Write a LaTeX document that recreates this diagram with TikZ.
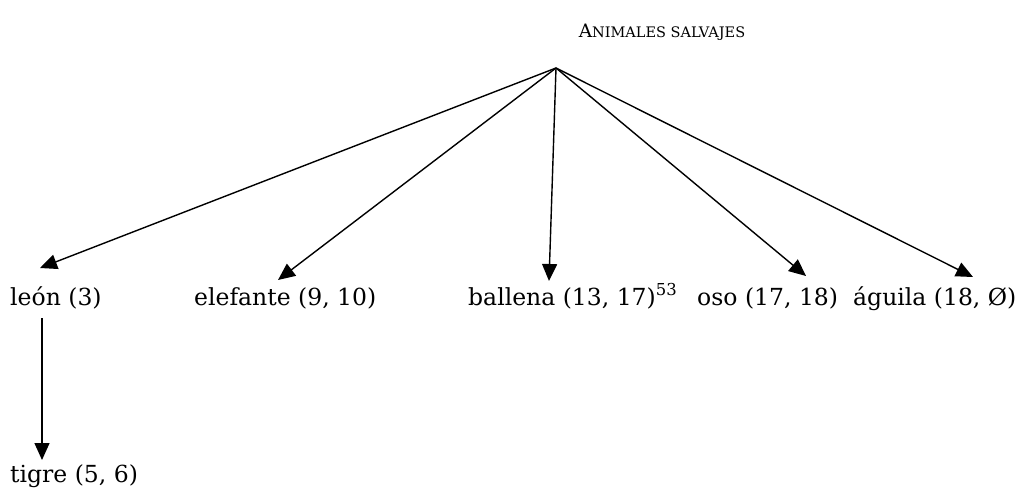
\documentclass[tikz,border=0pt]{standalone}
\usepackage{fontspec}
\setmainfont{DejaVu Serif}
\usetikzlibrary{arrows.meta}
\tikzset{
  lbl/.style={anchor=base west, inner sep=0pt, font=\fontsize{23.5}{27}\selectfont},
  arr/.style={-{Triangle[length=17pt,width=15pt]}, line width=1.4pt}
}
\begin{document}
\begin{tikzpicture}[x=1pt,y=-1pt]
\useasboundingbox (0,0) rectangle (1024,490);
\node[anchor=base, inner sep=0pt] (title) at (662,37)
  {{\fontsize{18.5}{21}\selectfont A}{\fontsize{14.5}{17}\selectfont NIMALES SALVAJES}};
\coordinate (apex) at (556,68);
\node[lbl] (leon) at (10,305) {león (3)};
\node[lbl] (elef) at (194,305) {elefante (9, 10)};
\node[lbl] (ball) at (468,305) {ballena (13, 17)\textsuperscript{53}};
\node[lbl] (oso) at (697,305) {oso (17, 18)};
\node[lbl] (agui) at (853,305) {águila (18, Ø)};
\node[lbl] (tigre) at (10,482) {tigre (5, 6)};
\coordinate (tl) at (40,268);
\coordinate (te) at (278,280);
\coordinate (tb) at (549,281);
\coordinate (to) at (806,276);
\coordinate (ta) at (973,277);
\coordinate (ls) at (42,318);
\coordinate (lt) at (42,460);
\draw[arr] (apex) -- (tl);
\draw[arr] (apex) -- (te);
\draw[arr] (apex) -- (tb);
\draw[arr] (apex) -- (to);
\draw[arr] (apex) -- (ta);
\draw[arr] (ls) -- (lt);
\end{tikzpicture}
\end{document}
